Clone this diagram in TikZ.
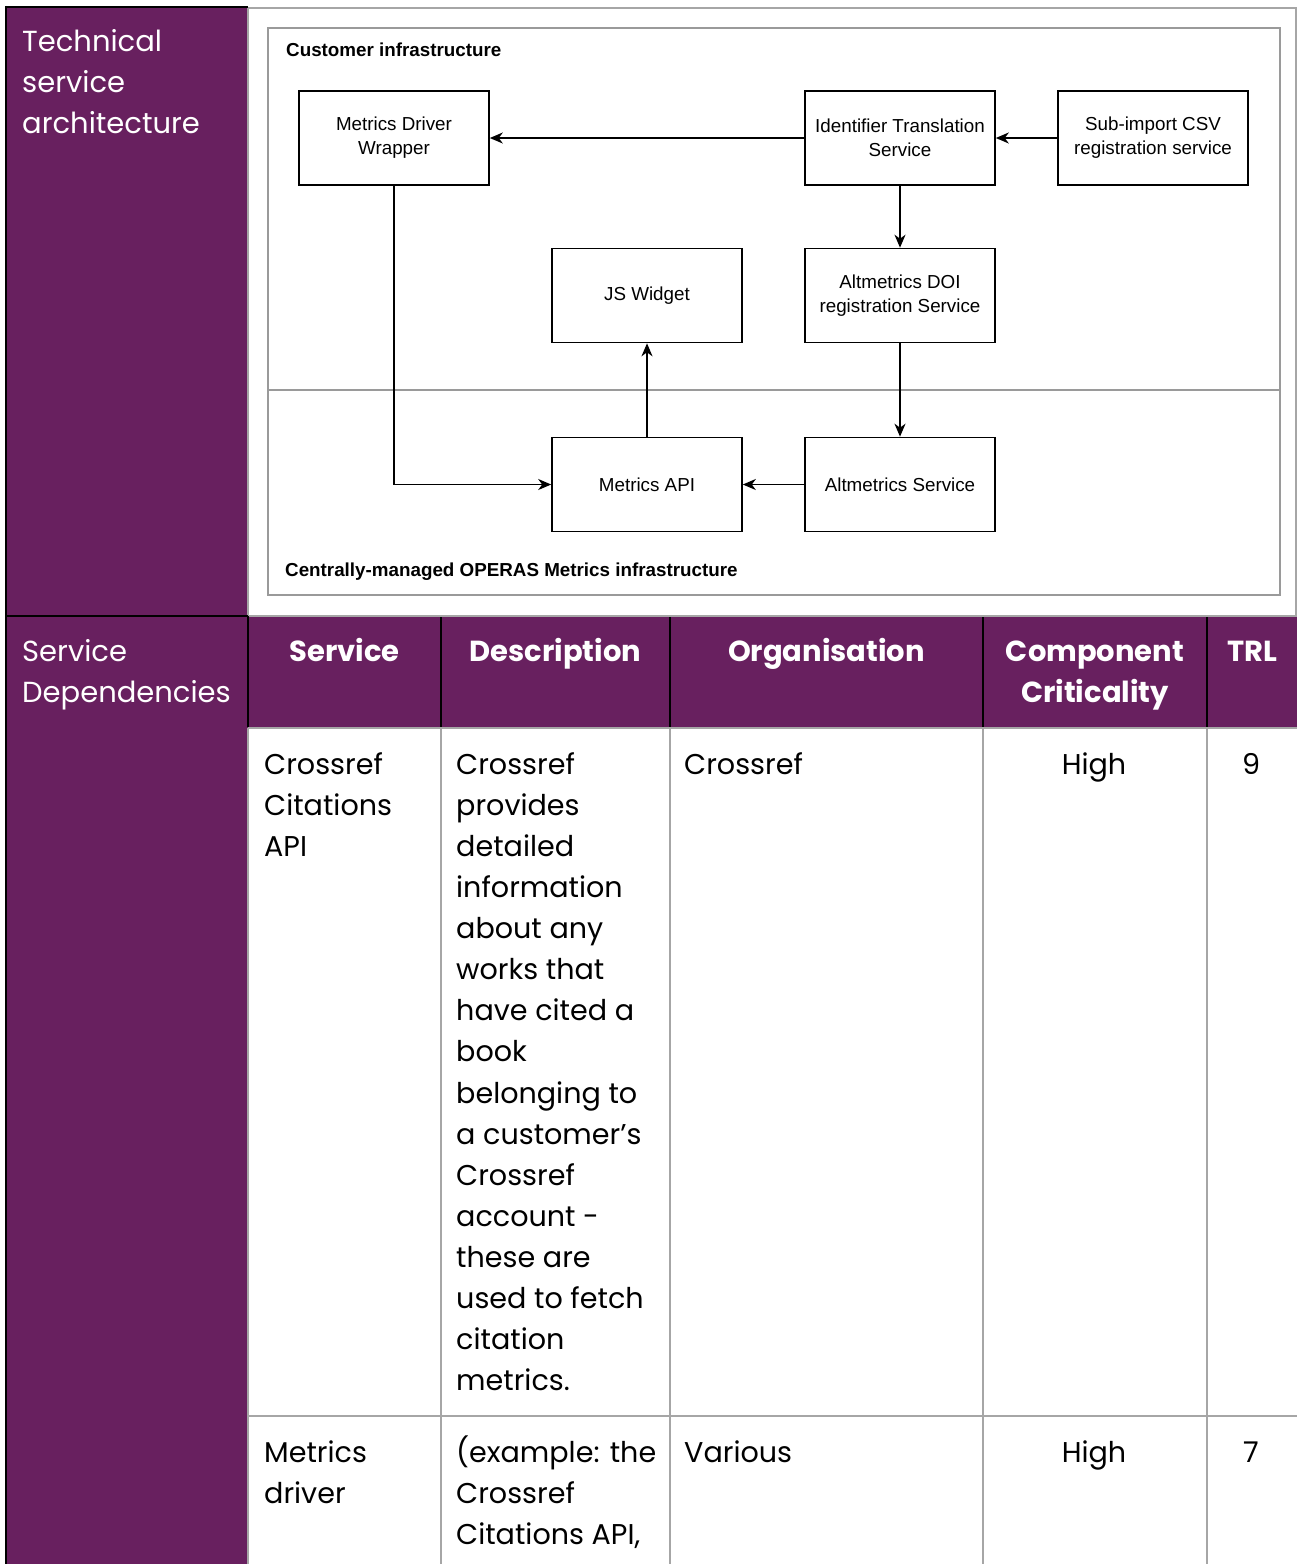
\documentclass[tikz,border=0pt]{standalone}
\usepackage{fontspec}
\setmainfont{Poppins}
\newfontfamily\diagfont{Liberation Sans}
\usetikzlibrary{arrows.meta}
\definecolor{purp}{HTML}{68205F}
\definecolor{gridc}{HTML}{A6A6A6}
\definecolor{framec}{HTML}{9A9A9A}
\begin{document}
\begin{tikzpicture}[x=1pt,y=-1pt,
  box/.style={draw=black, line width=1.6pt, minimum width=190pt, minimum height=94pt, inner sep=0pt,
    font=\diagfont\fontsize{18.8}{24}\selectfont, align=center},
  arr/.style={-{Stealth[length=13pt,width=11pt,inset=4pt]}, line width=1.6pt},
  zone/.style={anchor=base west, inner sep=0pt, font=\diagfont\bfseries\fontsize{18.8}{21}\selectfont},
  body/.style={anchor=base west, inner sep=0pt, font=\fontsize{28.6}{41}\selectfont},
  bodyc/.style={anchor=base, inner sep=0pt, font=\fontsize{28.6}{41}\selectfont},
  head/.style={anchor=base, inner sep=0pt, text=white, font=\bfseries\fontsize{29}{41}\selectfont},
  side/.style={anchor=base west, inner sep=0pt, text=white, font=\fontsize{29}{41}\selectfont},
  gline/.style={draw=gridc, line width=2pt},
  bline/.style={draw=black, line width=2.5pt}
]
\useasboundingbox (0,0) rectangle (1297,1564);
\fill[white] (0,0) rectangle (1297,1564);

% purple fills
\fill[purp] (6,7) rectangle (248,1564);
\fill[purp] (248,617) rectangle (1297,727);

% grid lines
\draw[gline] (248,8) -- (1296,8) -- (1296,616);
\draw[gline] (248,616) -- (1297,616);
\draw[gline] (248,728) -- (1297,728);
\draw[gline] (248,1416) -- (1297,1416);
\draw[gline] (248,728) -- (248,1564);
\foreach \xx in {441,670,983,1207} {
  \draw[gline] (\xx,728) -- (\xx,1564);
  \draw[line width=2pt, draw=black] (\xx,617) -- (\xx,727);
}
\draw[gline] (248,8) -- (248,616);
\draw[bline] (6,7) -- (248,7);
\draw[bline] (6,616) -- (248,616);
\draw[bline] (6,5.75) -- (6,1564);
\draw[line width=2pt, draw=black] (248,616) -- (248,727);

% left labels
\node[side] (ts0) at (22,51) {Technical};
\node[side] (ts1) at (22,92) {service};
\node[side] (ts2) at (22,133) {architecture};
\node[side] (sd0) at (22,661) {Service};
\node[side] (sd1) at (22,702) {Dependencies};

% diagram frame
\draw[draw=framec, line width=1.4pt] (268,28) rectangle (1280,595);
\draw[draw=framec, line width=1.4pt] (268,390) -- (1280,390);
\node[zone] (custz) at (286,56.5) {Customer infrastructure};
\node[zone] (centz) at (285,576.5) {Centrally-managed OPERAS Metrics infrastructure};

% boxes
\node[box] (mdw) at (394,138) {Metrics Driver\\Wrapper};
\node[box] (its) at (900,138) {Identifier Translation\\Service};
\node[box] (sub) at (1153,138) {Sub-import CSV\\registration service};
\node[box] (jsw) at (647,295.5) {JS Widget};
\node[box] (doi) at (900,295.5) {Altmetrics DOI\\registration Service};
\node[box] (mapi) at (647,484.5) {Metrics API};
\node[box] (alts) at (900,484.5) {Altmetrics Service};

% connectors
\draw[arr] (its) -- (mdw);
\draw[arr] (sub) -- (its);
\draw[arr] (its) -- (doi);
\draw[arr] (doi) -- (alts);
\draw[arr] (alts) -- (mapi);
\draw[arr] (mapi) -- (jsw);
\draw[arr] (mdw.south) |- (mapi.west);

% header
\node[head] (h1) at (344.5,661) {Service};
\node[head] (h2) at (555.5,661) {Description};
\node[head] (h3) at (826.5,661) {Organisation};
\node[head] (h4a) at (1095,661) {Component};
\node[head] (h4b) at (1095,702) {Criticality};
\node[head] (h5) at (1252,661) {TRL};

% row 1
\node[body] (r1s0) at (264,774) {Crossref};
\node[body] (r1s1) at (264,815) {Citations};
\node[body] (r1s2) at (264,856) {API};
\foreach \t [count=\i from 0] in {Crossref,provides,detailed,information,about any,works that,have cited a,book,belonging to,a customer's,Crossref,account -,these are,used to fetch,citation,metrics.}
  \node[body] (r1d\i) at (456,774+41.13*\i) {\t};
\node[body] (r1o) at (684,774) {Crossref};
\node[bodyc] (r1c) at (1094,774) {High};
\node[bodyc] (r1t) at (1251,774) {9};

% row 2
\node[body] (r2s0) at (264,1462) {Metrics};
\node[body] (r2s1) at (264,1503) {driver};
\node[body] (r2d0) at (456,1462) {(example: the};
\node[body] (r2d1) at (456,1503) {Crossref};
\node[body] (r2d2) at (456,1544) {Citations API,};
\node[body] (r2o) at (684,1462) {Various};
\node[bodyc] (r2c) at (1094,1462) {High};
\node[bodyc] (r2t) at (1251,1462) {7};
\end{tikzpicture}
\end{document}
